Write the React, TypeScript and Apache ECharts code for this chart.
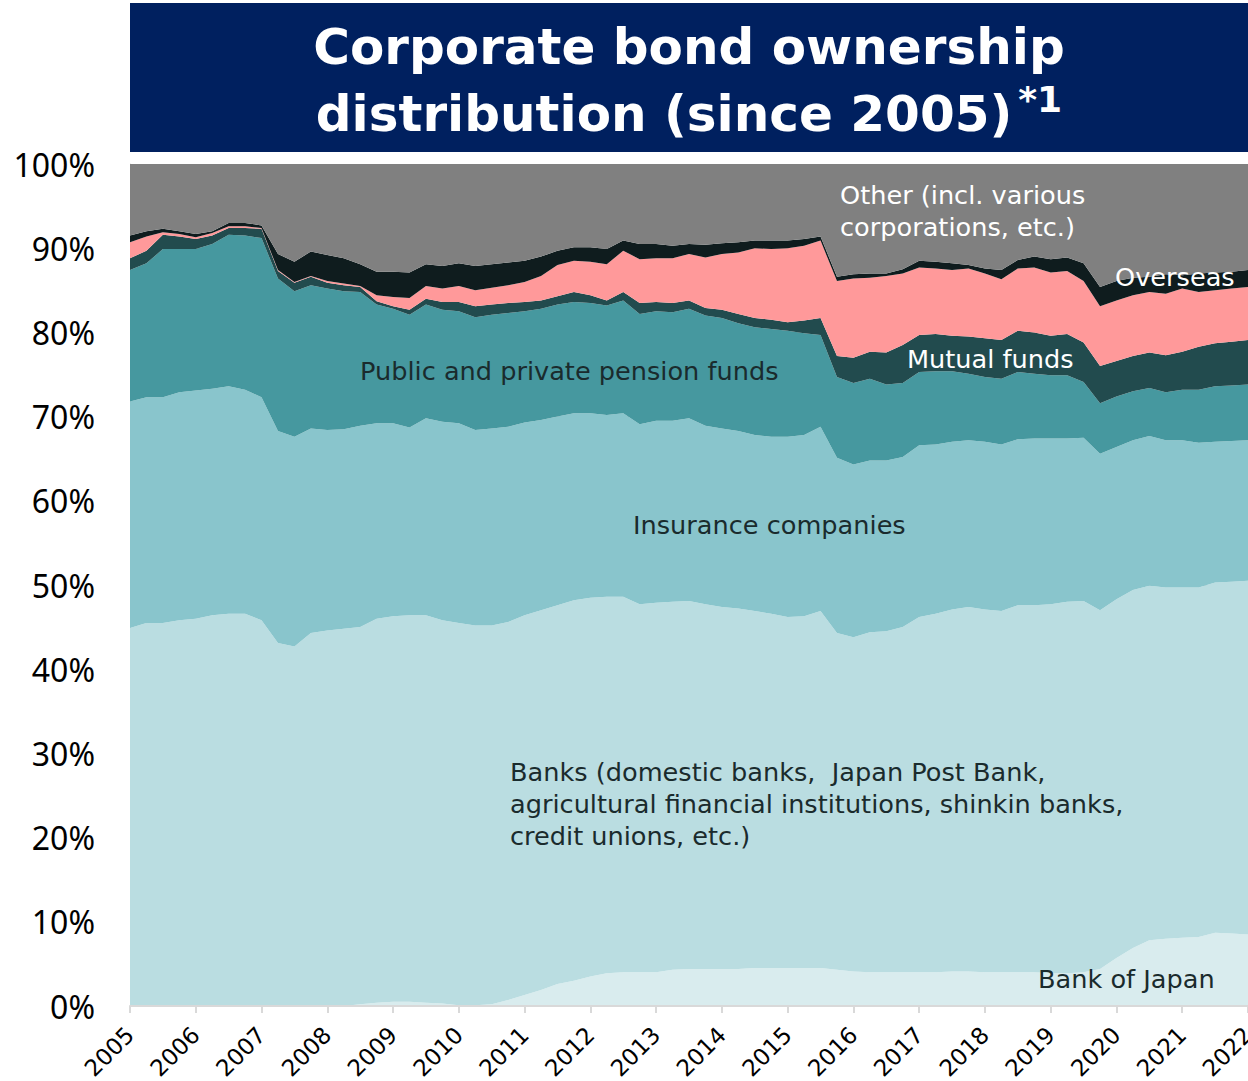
import React, { useEffect, useRef } from 'react';
import * as echarts from 'echarts';

const years = ['2005','2006','2007','2008','2009','2010','2011','2012','2013','2014','2015','2016','2017','2018','2019','2020','2021','2022'];
const quarters: string[] = years.flatMap((y) => [y + ' Q1', y + ' Q2', y + ' Q3', y + ' Q4']).slice(0, 69);
const yTicks = [0, 10, 20, 30, 40, 50, 60, 70, 80, 90, 100];

const bankOfJapan = [
  0,0,0,0,0,0,0,0,0,0,0,0,0,0,
  0.2,0.4,0.5,0.5,0.4,0.3,0.1,0.1,0.2,0.7,
  1.3,1.9,2.6,3.0,3.5,3.9,4.0,4.0,4.0,4.3,
  4.4,4.4,4.4,4.4,4.5,4.5,4.5,4.5,4.5,4.3,
  4.1,4.0,4.0,4.0,4.0,4.0,4.1,4.1,4.0,4.0,
  4.0,4.0,3.9,3.9,4.0,4.4,5.7,6.9,7.8,8.0,
  8.1,8.2,8.7,8.6,8.5,
];
const banks = [
  44.9,45.5,45.5,45.8,46.0,46.4,46.6,46.6,45.8,43.1,42.7,44.3,44.6,44.8,
  44.8,45.6,45.8,45.9,46.0,45.5,45.4,45.1,45.0,44.9,
  45.1,45.1,45.0,45.2,45.0,44.7,44.6,43.7,43.9,43.7,
  43.7,43.3,43.0,42.8,42.4,42.1,41.7,41.8,42.4,40.0,
  39.7,40.4,40.5,41.0,42.2,42.6,43.0,43.3,43.1,42.9,
  43.6,43.6,43.8,44.1,44.1,42.6,42.6,42.5,42.1,41.7,
  41.6,41.5,41.6,41.8,42.0,
];
const insurance = [
  26.9,26.8,26.8,27.1,27.1,26.9,27.0,26.6,26.5,25.2,
  24.9,24.3,23.8,23.7,23.9,23.2,22.9,22.3,23.4,23.6,
  23.7,23.2,23.4,23.2,22.9,22.6,22.4,22.2,21.9,21.6,
  21.8,21.4,21.6,21.5,21.7,21.2,21.2,21.1,20.9,21.0,
  21.4,21.5,21.9,20.8,20.5,20.4,20.3,20.2,20.4,20.1,
  19.9,19.8,19.9,19.8,19.7,19.8,19.7,19.4,19.4,18.6,
  18.1,17.8,17.8,17.5,17.5,17.2,16.7,16.7,16.7,
];
const pensionFunds = [
  15.6,15.9,17.6,17.0,16.8,17.2,18.0,18.3,18.9,18.1,
  17.3,17.0,16.8,16.4,15.9,14.1,13.6,13.4,13.5,13.3,
  13.3,13.4,13.5,13.5,13.2,13.2,13.3,13.2,13.1,13.0,
  13.4,13.1,13.0,12.9,13.0,13.1,13.1,12.8,12.8,12.8,
  12.6,12.1,10.9,9.6,9.7,9.7,9.0,8.8,8.7,8.7,
  8.4,7.9,7.7,7.8,8.0,7.7,7.5,7.5,6.6,6.0,
  6.0,5.8,5.7,5.7,6.0,6.3,6.6,6.6,6.6,
];
const mutualFunds = [
  1.4,1.5,1.7,1.5,1.2,1.0,0.8,0.9,1.1,0.9,
  1.0,1.0,0.7,0.7,0.6,0.4,0.3,0.6,0.7,0.9,
  1.1,1.3,1.2,1.2,1.1,1.0,1.0,1.2,0.9,0.6,
  1.0,1.3,1.1,1.1,1.0,0.9,1.0,1.1,1.1,1.1,
  1.0,1.5,2.0,2.5,3.0,3.2,3.8,4.5,4.4,4.4,
  4.2,4.4,4.6,4.6,4.9,4.9,4.7,4.9,4.7,4.4,
  4.2,4.2,4.2,4.4,4.5,5.1,5.1,5.2,5.3,
];
const otherFinancial = [
  1.9,1.7,0.3,0.3,0.2,0.3,0.2,0.2,0.1,0.1,
  0.1,0.1,0.2,0.2,0.1,0.7,1.1,1.4,1.5,1.6,
  1.9,1.9,2.0,2.1,2.4,2.9,3.7,3.7,4.0,4.3,
  4.9,5.2,5.2,5.3,5.5,6.0,6.6,7.3,8.3,8.4,
  8.8,8.9,9.2,8.9,9.4,8.8,9.1,8.5,8.0,7.8,
  7.8,8.1,7.7,7.2,7.4,7.7,7.5,7.5,7.3,7.1,
  7.2,7.2,7.2,7.3,7.5,6.5,6.3,6.3,6.3,
];
const overseas = [
  0.8,0.6,0.4,0.3,0.4,0.2,0.4,0.4,0.3,1.9,
  2.4,2.9,3.1,3.0,2.6,2.8,3.0,3.0,2.6,2.7,
  2.7,2.9,2.8,2.7,2.5,2.3,1.7,1.6,1.7,1.8,
  1.2,1.8,1.7,1.5,1.2,1.5,1.3,1.2,0.9,1.0,
  0.9,0.8,0.5,0.5,0.5,0.5,0.3,0.5,0.8,0.8,
  0.8,0.4,0.6,1.1,1.0,1.3,1.6,1.6,2.1,2.3,
  2.3,2.1,1.8,2.3,1.6,2.2,2.1,2.0,2.0,
];
const other = [
  8.5,8.0,7.7,8.0,8.3,8.0,7.0,7.0,7.3,10.7,
  11.6,10.4,10.8,11.2,11.9,12.8,12.8,12.9,11.9,12.1,
  11.8,12.1,11.9,11.7,11.5,11.0,10.3,9.9,9.9,10.1,
  9.1,9.5,9.5,9.7,9.5,9.6,9.4,9.3,9.1,9.1,
  9.1,8.9,8.6,13.4,13.1,13.0,13.0,12.5,11.5,11.6,
  11.8,12.0,12.4,12.6,11.4,11.0,11.3,11.1,11.8,14.6,
  13.9,13.5,13.4,13.1,13.2,13.0,12.9,12.8,12.6,
];

const layers = [
  { name: 'Bank of Japan', data: bankOfJapan, color: '#d9ecee' },
  { name: 'Banks', data: banks, color: '#badde1' },
  { name: 'Insurance companies', data: insurance, color: '#89c5cc' },
  { name: 'Public and private pension funds', data: pensionFunds, color: '#46989f' },
  { name: 'Mutual funds', data: mutualFunds, color: '#224b4e' },
  { name: 'Other financial institutions', data: otherFinancial, color: '#ff999a' },
  { name: 'Overseas', data: overseas, color: '#0f1c1e' },
  { name: 'Other', data: other, color: '#808080' },
];

const TITLE_FONT = 'DejaVu Sans';
const AXIS_FONT = 'Noto Sans';
const BODY_FONT = 'DejaVu Sans';

export default function App() {
  const ref = useRef<HTMLDivElement>(null);
  useEffect(() => {
    if (!ref.current) return;
    const chart = echarts.init(ref.current, undefined, { renderer: 'svg', width: 1248, height: 1081 });
    const showEveryYear = (i: number) => i % 4 === 0;
    const dark = '#1a2b2d';
    const txt = (x: number, y: number, text: string, fill: string) => ({
      type: 'text',
      x,
      y,
      z: 100,
      style: { text, fill, font: `25.6px "${BODY_FONT}"`, textVerticalAlign: 'middle', lineHeight: 32 },
    });
    chart.setOption({
      animation: false,
      backgroundColor: '#ffffff',
      grid: { left: 130, top: 164, width: 1118, height: 842, containLabel: false, outerBoundsMode: 'none' },
      xAxis: {
        type: 'category',
        boundaryGap: false,
        data: quarters,
        axisLine: { show: true, lineStyle: { color: '#d9d9d9', width: 2 } },
        axisTick: { show: true, interval: showEveryYear, length: 7, lineStyle: { color: '#d9d9d9', width: 2 } },
        axisLabel: {
          interval: showEveryYear,
          rotate: 45,
          formatter: (v: string) => v.slice(0, 4),
          color: '#000',
          fontSize: 23,
          fontFamily: BODY_FONT,
          margin: 25,
          hideOverlap: false,
        },
        splitLine: { show: false },
        z: 10,
      },
      yAxis: {
        type: 'value',
        min: yTicks[0],
        max: yTicks[yTicks.length - 1],
        interval: 10,
        axisLine: { show: true, lineStyle: { color: '#d9d9d9', width: 1 } },
        axisTick: { show: false },
        axisLabel: { formatter: '{value}%', color: '#000', fontSize: 32, fontFamily: AXIS_FONT, margin: 35 },
        splitLine: { show: true, lineStyle: { color: '#d9d9d9', width: 1 } },
      },
      series: layers.map((l) => ({
        name: l.name,
        type: 'line',
        stack: 'total',
        data: l.data,
        symbol: 'none',
        silent: true,
        lineStyle: { width: 0 },
        areaStyle: { color: l.color, opacity: 1 },
        itemStyle: { color: l.color },
      })),
      graphic: [
        { type: 'rect', shape: { x: 130, y: 3, width: 1118, height: 149 }, style: { fill: '#00205f' }, z: 100 },
        {
          type: 'text', x: 689, y: 47, z: 101,
          style: { text: 'Corporate bond ownership', fill: '#fff', font: `bold 50px "${TITLE_FONT}"`, textAlign: 'center', textVerticalAlign: 'middle' },
        },
        {
          type: 'text', x: 689, y: 110, z: 101,
          style: {
            text: '{m|distribution (since 2005)}{s|*1}',
            fill: '#fff',
            textAlign: 'center',
            textVerticalAlign: 'middle',
            rich: {
              m: { font: `bold 50px "${TITLE_FONT}"`, fill: '#fff', verticalAlign: 'bottom', lineHeight: 58 },
              s: { font: `bold 36px "${TITLE_FONT}"`, fill: '#fff', verticalAlign: 'top', lineHeight: 38, padding: [0, 0, 0, 6] },
            },
          },
        },
        txt(840, 211, 'Other (incl. various\ncorporations, etc.)', '#ffffff'),
        txt(1115, 277, 'Overseas', '#ffffff'),
        txt(907, 359, 'Mutual funds', '#ffffff'),
        txt(360, 371, 'Public and private pension funds', dark),
        txt(633, 525, 'Insurance companies', dark),
        txt(510, 804, 'Banks (domestic banks,  Japan Post Bank,\nagricultural financial institutions, shinkin banks,\ncredit unions, etc.)', dark),
        txt(1038, 979, 'Bank of Japan', dark),
      ],
    });
    return () => chart.dispose();
  }, []);
  return <div ref={ref} style={{ position: 'fixed', left: 0, top: 0, width: 1248, height: 1081 }} />;
}
